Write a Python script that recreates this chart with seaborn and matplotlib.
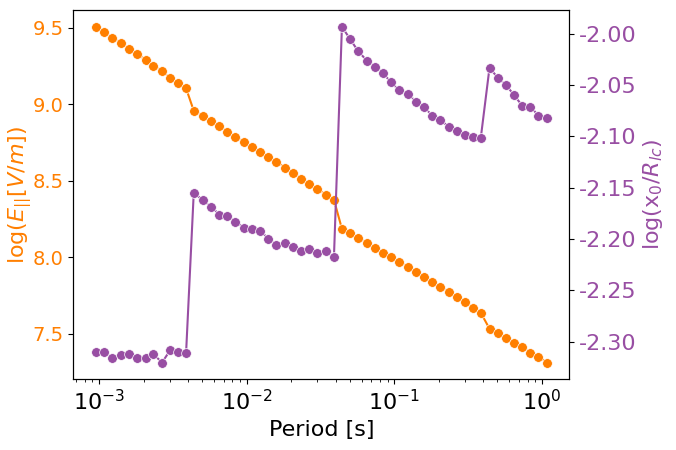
import matplotlib
matplotlib.use("Agg")
import matplotlib.pyplot as plt
import seaborn as sns
import pandas as pd

period = [0.000950, 0.001081, 0.001225, 0.001403, 0.001596, 0.001808, 0.002062, 0.002335,
          0.002670, 0.003025, 0.003426, 0.003882, 0.004377, 0.005060, 0.005731, 0.006535,
          0.007401, 0.008385, 0.009543, 0.010862, 0.012303, 0.014028, 0.015891, 0.018281,
          0.020714, 0.023466, 0.026414, 0.029923, 0.034271, 0.039001, 0.044177, 0.050044,
          0.056689, 0.065238, 0.073890, 0.083715, 0.094843, 0.10743, 0.12365, 0.14005,
          0.15866, 0.18087, 0.20490, 0.23320, 0.26413, 0.30061, 0.34056, 0.38578,
          0.44184, 0.50293, 0.56962, 0.64532, 0.73557, 0.83719, 0.94844, 1.0794]

log_E = [9.507, 9.474, 9.435, 9.402, 9.363, 9.330, 9.291, 9.252, 9.219, 9.173, 9.141, 9.105,
         8.958, 8.925, 8.892, 8.859, 8.820, 8.788, 8.755, 8.722, 8.690, 8.657, 8.624, 8.585,
         8.552, 8.513, 8.480, 8.448, 8.410, 8.376, 8.186, 8.160, 8.127, 8.095, 8.062, 8.029,
         8.003, 7.971, 7.938, 7.905, 7.873, 7.840, 7.807, 7.775, 7.742, 7.709, 7.670, 7.637,
         7.533, 7.507, 7.474, 7.441, 7.415, 7.376, 7.350, 7.312]

log_x0 = [-2.3104, -2.3104, -2.3156, -2.3133, -2.3124, -2.3156, -2.3156, -2.3124, -2.3204,
          -2.3085, -2.3101, -2.3114, -2.1549, -2.1624, -2.1685, -2.1763, -2.1780, -2.1831,
          -2.1890, -2.1899, -2.1919, -2.1997, -2.2055, -2.2040, -2.2075, -2.2117, -2.2094,
          -2.2140, -2.2120, -2.2179, -1.9932, -2.0049, -2.0166, -2.0263, -2.0321, -2.0380,
          -2.0474, -2.0545, -2.0584, -2.0662, -2.0711, -2.0799, -2.0838, -2.0906, -2.0945,
          -2.0984, -2.1003, -2.1013, -2.0331, -2.0429, -2.0497, -2.0594, -2.0701, -2.0711,
          -2.0799, -2.0818]

orange = "#ff7f00"
purple = "#984ea3"
fs_label = 16

plt.rcParams['axes.unicode_minus'] = False
plt.rcParams['font.family'] = ['DejaVu Sans']

df = pd.DataFrame({"period": period, "logE": log_E, "logx0": log_x0})

fig = plt.figure(figsize=(6.76, 4.5), dpi=100)
ax = fig.add_axes([73.3 / 676, 1 - 379.3 / 450, (569.3 - 73.3) / 676, (379.3 - 10) / 450])
sns.lineplot(data=df, x="period", y="logE", ax=ax, color=orange, marker="o",
             markersize=7, markeredgewidth=0.5, markeredgecolor="white", linewidth=1.5)
ax.set_xscale("log")
ax.set_xlabel("Period [s]", fontsize=fs_label)
ax.set_ylabel(r"log($E_{||}[V/m]$)", fontsize=fs_label, color=orange, labelpad=-1)
ax.tick_params(axis="y", labelcolor=orange, labelsize=14)
ax.tick_params(axis="x", labelsize=16)

ax2 = ax.twinx()
sns.lineplot(data=df, x="period", y="logx0", ax=ax2, color=purple, marker="o",
             markersize=7, markeredgewidth=0.5, markeredgecolor="white", linewidth=1.5)
ax2.set_ylabel(r"log(x$_0/R_{lc}$)", fontsize=fs_label, color=purple, labelpad=3)
ax2.tick_params(axis="y", labelcolor=purple, labelsize=16)
ax2.set_xscale("log")

fig.savefig("out.png", dpi=100)
